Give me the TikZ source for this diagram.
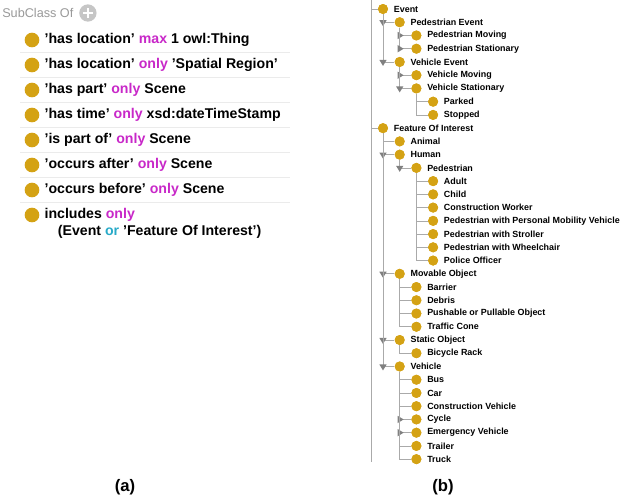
\documentclass[tikz,border=0pt]{standalone}
\usepackage{fontspec}
\setmainfont{Liberation Sans}
\usepackage{xcolor}
\usetikzlibrary{shapes.geometric,positioning}
\definecolor{owlgold}{RGB}{212,162,20}
\definecolor{kwpink}{RGB}{200,40,200}
\definecolor{kwteal}{RGB}{40,170,200}
\definecolor{treeline}{RGB}{170,170,170}
\newcommand{\kw}[1]{\textcolor{kwpink}{#1}}
\tikzset{
  cls/.style={circle, fill=owlgold, inner sep=0pt, minimum size=11pt},
  tcls/.style={circle, fill=owlgold, inner sep=0pt, minimum size=7.5pt},
  axiom/.style={anchor=west, font=\fontsize{10.6}{12}\selectfont\bfseries, inner sep=1pt},
  tlabel/.style={anchor=west, font=\fontsize{6.7}{8}\selectfont\bfseries, inner sep=1pt},
  sep/.style={draw=black!8, line width=0.6pt},
  branch/.style={draw=treeline, line width=0.5pt},
  togdown/.style={fill=gray, isosceles triangle, shape border rotate=-90, inner sep=0pt, minimum width=5.5pt, minimum height=4.5pt, isosceles triangle stretches},
  togright/.style={fill=gray, isosceles triangle, inner sep=0pt, minimum width=5.5pt, minimum height=4.5pt, isosceles triangle stretches}
}
\begin{document}
\begin{tikzpicture}[x=0.75pt, y=-0.75pt]
\useasboundingbox (0,0) rectangle (636,500);

% SubClass Of header
\node[anchor=west, text=gray!80, font=\fontsize{9.5}{11}\selectfont, inner sep=0pt] (head) at (2,13) {SubClass Of};
\node[circle, fill=gray!45, minimum size=13pt, inner sep=0pt, right=4pt of head] (plus) {};
\draw[white, line width=1.5pt] ([xshift=-3.8pt]plus.center) -- ([xshift=3.8pt]plus.center)
  ([yshift=-3.8pt]plus.center) -- ([yshift=3.8pt]plus.center);

% axioms
\foreach \i/\txt in {
  1/{'has location' \kw{max} 1 owl:Thing},
  2/{'has location' \kw{only} 'Spatial Region'},
  3/{'has part' \kw{only} Scene},
  4/{'has time' \kw{only} xsd:dateTimeStamp},
  5/{'is part of' \kw{only} Scene},
  6/{'occurs after' \kw{only} Scene},
  7/{'occurs before' \kw{only} Scene},
  8/{includes \kw{only}}}{
  \node[cls] (a\i) at (32,15+25*\i) {};
  \node[axiom] (t\i) at (43,15+25*\i) {\txt};
}
\foreach \i in {1,...,7}
  \draw[sep] (20,27+25*\i) -- (290,27+25*\i);
\node[axiom, below=0pt of t8.south west, xshift=10pt, anchor=north west] (t8b)
  {(Event \textcolor{kwteal}{or} 'Feature Of Interest')};

% class tree
\coordinate (top) at (371,0);
\coordinate (bottom) at (371,462);
\draw[branch] (top) -- (bottom);
\foreach \i/\l/\p/\tg/\txt in {
  0/0/top/n/Event,
  1/1/c0/d/Pedestrian Event,
  2/2/c1/r/Pedestrian Moving,
  3/2/c1/r/Pedestrian Stationary,
  4/1/c0/d/Vehicle Event,
  5/2/c4/r/Vehicle Moving,
  6/2/c4/d/Vehicle Stationary,
  7/3/c6/n/Parked,
  8/3/c6/n/Stopped,
  9/0/top/n/Feature Of Interest,
  10/1/c9/n/Animal,
  11/1/c9/d/Human,
  12/2/c11/d/Pedestrian,
  13/3/c12/n/Adult,
  14/3/c12/n/Child,
  15/3/c12/n/Construction Worker,
  16/3/c12/n/Pedestrian with Personal Mobility Vehicle,
  17/3/c12/n/Pedestrian with Stroller,
  18/3/c12/n/Pedestrian with Wheelchair,
  19/3/c12/n/Police Officer,
  20/1/c9/d/Movable Object,
  21/2/c20/n/Barrier,
  22/2/c20/n/Debris,
  23/2/c20/n/Pushable or Pullable Object,
  24/2/c20/n/Traffic Cone,
  25/1/c9/d/Static Object,
  26/2/c25/n/Bicycle Rack,
  27/1/c9/d/Vehicle,
  28/2/c27/n/Bus,
  29/2/c27/n/Car,
  30/2/c27/n/Construction Vehicle,
  31/2/c27/r/Cycle,
  32/2/c27/r/Emergency Vehicle,
  33/2/c27/n/Trailer,
  34/2/c27/n/Truck}{
  \node[tcls] (c\i) at (383+16.7*\l,9+13.24*\i) {};
  \node[tlabel] (n\i) at ([xshift=3pt]c\i.east) {\txt};
  \draw[branch] (\p) |- (c\i);
  \if d\tg \node[togdown] at (\p |- c\i) {}; \fi
  \if r\tg \node[togright] at (\p |- c\i) {}; \fi
}
\foreach \i in {0,...,34} \node[tcls] at (c\i) {};

% captions
\node[font=\fontsize{12.5}{14}\selectfont\bfseries] (capa) at (125,487) {(a)};
\node[font=\fontsize{12.5}{14}\selectfont\bfseries] (capb) at (443,487) {(b)};
\end{tikzpicture}
\end{document}
